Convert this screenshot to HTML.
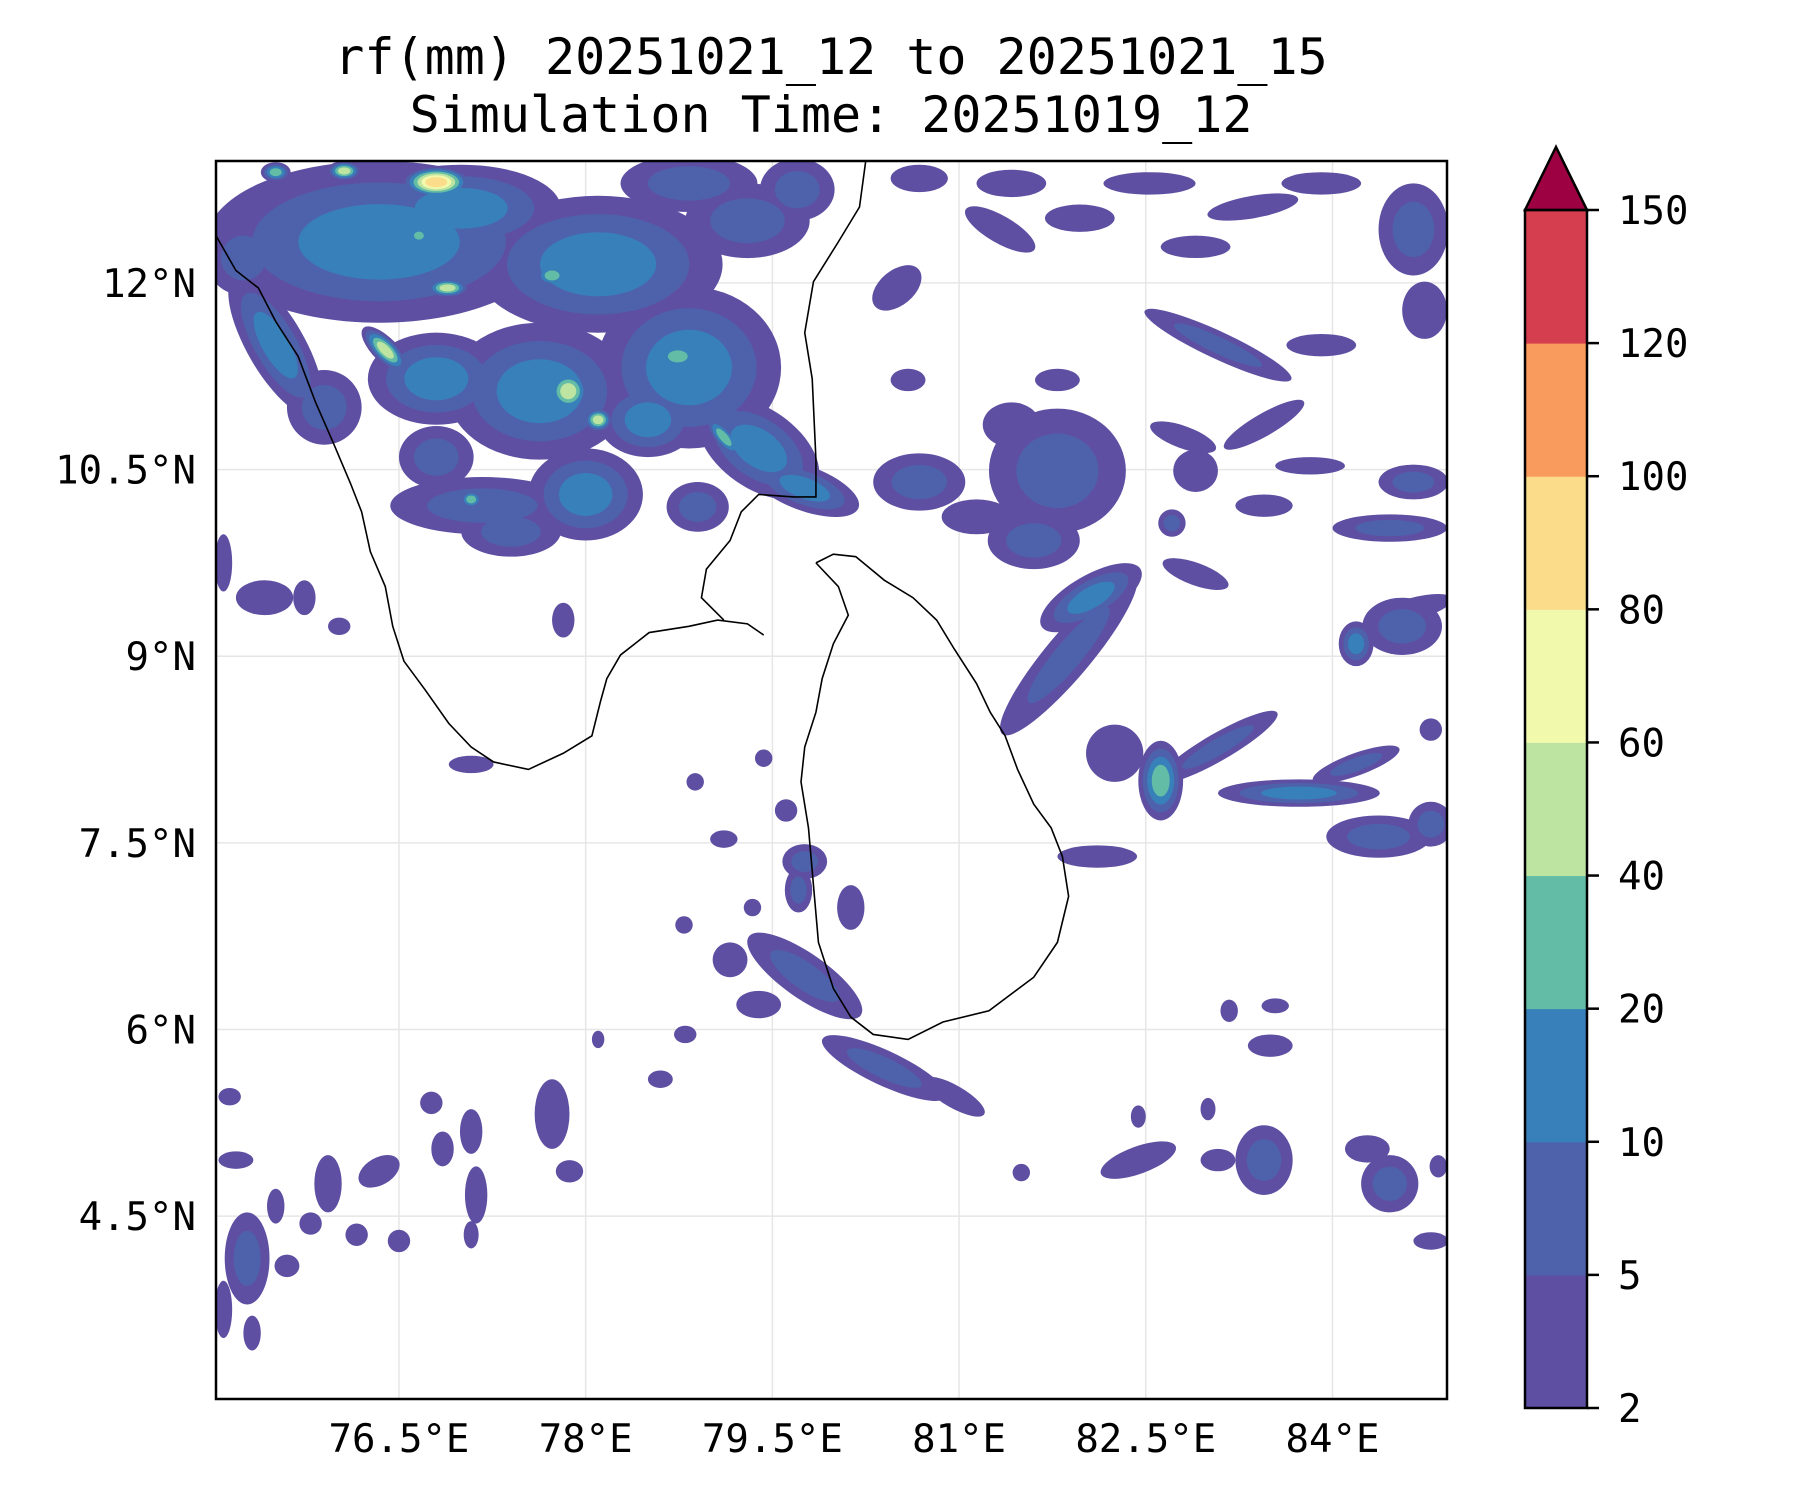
<!DOCTYPE html>
<html><head><meta charset="utf-8"><style>
html,body{margin:0;padding:0;background:#fff;}
svg{display:block;font-family:"DejaVu Sans Mono","Liberation Mono",monospace;}
</style></head><body>
<svg id="chart" width="1800" height="1500" viewBox="0 0 1800 1500">
<text x="831" y="74" font-size="50" text-anchor="middle">rf(mm) 20251021_12 to 20251021_15</text>
<text x="831" y="132" font-size="50" text-anchor="middle">Simulation Time: 20251019_12</text>
<defs><clipPath id="plotclip"><rect x="216" y="161" width="1231" height="1238"/></clipPath></defs>
<g id="grid"></g>
<g id="blobs" clip-path="url(#plotclip)"></g>
<g id="coast" clip-path="url(#plotclip)"></g>
<rect x="216" y="161" width="1231" height="1238" fill="none" stroke="#000" stroke-width="2.5"/>
<g id="xticks"></g>
<g id="yticks"></g>
<g id="cbar"></g>
</svg>
<script>
const lonTicks=[76.5,78,79.5,81,82.5,84];
const lonLabels=["76.5°E","78°E","79.5°E","81°E","82.5°E","84°E"];
const latTicks=[12,10.5,9,7.5,6,4.5];
const latLabels=["12°N","10.5°N","9°N","7.5°N","6°N","4.5°N"];
const levels=[2,5,10,20,40,60,80,100,120,150];
const levelColors=["#5e4fa2","#4e62ab","#3880b9","#62bca6","#bde4a0","#f1f9ad","#fbdc8a","#f89b5c","#d53e4f"];
const extendColor="#9e0142";
// blobs: [lon, lat, rx(deg), ry(deg), rotation(deg), maxLevelIndex]
const blobs=[
[76.34,12.33,1.39,0.65,0,3],[78.10,12.15,1.0,0.55,0,3],[78.83,11.32,0.74,0.65,0,3],
[77.63,11.13,0.74,0.55,0,3],[76.80,11.23,0.55,0.37,0,3],[75.51,11.50,0.65,0.23,60,3],
[75.25,12.2,0.3,0.3,0,2],[79.39,10.67,0.55,0.32,35,3],[79.76,10.35,0.46,0.18,20,3],
[77.17,10.21,0.74,0.23,0,2],[78.0,10.30,0.46,0.37,0,3],[78.83,12.80,0.55,0.23,0,2],
[76.8,10.6,0.3,0.25,0,2],[78.9,10.2,0.25,0.2,0,2],[79.7,12.75,0.3,0.25,0,2],
[77.0,12.6,0.8,0.35,0,3],[79.3,12.5,0.5,0.3,0,2],[75.9,11.0,0.3,0.3,0,2],
[77.4,10.0,0.4,0.2,0,2],[78.5,10.9,0.4,0.3,0,3],
[76.80,12.81,0.28,0.13,0,7],[76.06,12.90,0.14,0.08,0,5],[75.51,12.89,0.12,0.08,0,4],
[76.89,11.96,0.18,0.08,0,5],[76.39,11.46,0.25,0.1,45,5],[77.86,11.13,0.18,0.18,0,5],
[78.10,10.90,0.12,0.1,0,5],[78.74,11.41,0.2,0.12,0,4],[77.73,12.06,0.15,0.1,0,4],
[79.11,10.76,0.22,0.08,50,4],[77.08,10.26,0.1,0.08,0,4],[76.66,12.38,0.1,0.08,0,4],
[80.68,12.84,0.23,0.11,0,1],[81.42,12.80,0.28,0.11,0,1],[81.33,12.43,0.32,0.11,30,1],
[80.50,11.96,0.23,0.14,-40,1],[81.97,12.52,0.28,0.11,0,1],[82.53,12.80,0.37,0.09,0,1],
[83.36,12.61,0.37,0.09,-10,1],[83.91,12.80,0.32,0.09,0,1],[84.65,12.43,0.28,0.37,0,2],
[82.90,12.29,0.28,0.09,0,1],[83.08,11.50,0.65,0.11,25,2],[83.91,11.50,0.28,0.09,0,1],
[84.74,11.78,0.18,0.23,0,1],[81.79,11.22,0.18,0.09,0,1],[80.59,11.22,0.14,0.09,0,1],
[81.79,10.49,0.55,0.5,0,2],[81.6,9.93,0.37,0.23,0,2],[81.42,10.86,0.23,0.18,0,1],
[80.68,10.40,0.37,0.23,0,2],[81.14,10.12,0.28,0.14,0,1],[82.80,10.76,0.28,0.09,20,1],
[83.45,10.86,0.37,0.09,-30,1],[82.90,10.49,0.18,0.17,0,1],[83.82,10.53,0.28,0.07,0,1],
[84.65,10.40,0.28,0.14,0,2],[84.46,10.03,0.46,0.11,0,2],[83.45,10.21,0.23,0.09,0,1],
[82.71,10.07,0.11,0.11,0,2],[82.90,9.66,0.28,0.09,20,1],[82.06,9.47,0.46,0.18,-30,3],
[81.88,9.01,0.83,0.18,-50,2],[84.56,9.24,0.32,0.23,0,2],[84.65,9.38,0.32,0.09,-15,1],
[84.19,9.10,0.14,0.18,0,3],[84.79,8.41,0.09,0.09,0,1],[83.08,8.27,0.55,0.11,-30,2],
[83.73,7.90,0.65,0.11,0,3],[84.19,8.13,0.37,0.09,-20,2],[82.62,8.00,0.18,0.32,0,4],
[82.25,8.22,0.23,0.23,0,1],[84.37,7.55,0.42,0.17,0,2],[84.79,7.65,0.18,0.18,0,2],
[82.11,7.39,0.32,0.09,0,1],
[75.09,9.75,0.07,0.23,0,1],[75.42,9.47,0.23,0.14,0,1],[75.74,9.47,0.09,0.14,0,1],
[76.02,9.24,0.09,0.07,0,1],[77.82,9.29,0.09,0.14,0,1],[77.08,8.13,0.18,0.07,0,1],
[79.76,7.35,0.18,0.14,0,2],[79.76,6.43,0.55,0.18,35,2],[80.40,5.69,0.55,0.14,25,2],
[80.96,5.46,0.28,0.09,30,1],[79.39,6.20,0.18,0.11,0,1],[79.16,6.56,0.14,0.14,0,1],
[79.71,7.12,0.11,0.18,0,2],[78.88,7.99,0.07,0.07,0,1],[79.11,7.53,0.11,0.07,0,1],
[78.79,6.84,0.07,0.07,0,1],[79.34,6.98,0.07,0.07,0,1],[80.13,6.98,0.11,0.18,0,1],
[79.43,8.18,0.07,0.07,0,1],[79.61,7.76,0.09,0.09,0,1],
[77.73,5.32,0.14,0.28,0,1],[77.87,4.86,0.11,0.09,0,1],[78.6,5.6,0.1,0.07,0,1],
[78.1,5.92,0.05,0.07,0,1],[78.8,5.96,0.09,0.07,0,1],
[75.19,4.95,0.14,0.07,0,1],[75.14,5.46,0.09,0.07,0,1],[75.28,4.16,0.18,0.37,0,2],
[75.09,3.75,0.07,0.23,0,1],[75.93,4.76,0.11,0.23,0,1],[75.79,4.44,0.09,0.09,0,1],
[76.34,4.86,0.18,0.11,-30,1],[76.85,5.04,0.09,0.14,0,1],[77.08,5.18,0.09,0.18,0,1],
[77.12,4.67,0.09,0.23,0,1],[76.76,5.41,0.09,0.09,0,1],[76.5,4.3,0.09,0.09,0,1],
[75.51,4.58,0.07,0.14,0,1],[76.16,4.35,0.09,0.09,0,1],[77.08,4.35,0.06,0.11,0,1],
[75.32,3.56,0.07,0.14,0,1],[75.6,4.1,0.1,0.09,0,1],
[83.45,4.95,0.23,0.28,0,2],[84.46,4.76,0.23,0.23,0,2],[84.28,5.04,0.18,0.11,0,1],
[82.44,4.95,0.32,0.11,-20,1],[83.08,4.95,0.14,0.09,0,1],[83.50,5.87,0.18,0.09,0,1],
[83.54,6.19,0.11,0.06,0,1],[83.17,6.15,0.07,0.09,0,1],[84.79,4.3,0.14,0.07,0,1],
[84.85,4.9,0.07,0.09,0,1],[81.5,4.85,0.07,0.07,0,1],[82.44,5.3,0.06,0.09,0,1],[83.0,5.36,0.06,0.09,0,1]
];
const coastIndia=[[75.03,12.38],[75.19,12.10],[75.37,11.96],[75.51,11.69],[75.69,11.41],[75.83,11.04],[75.97,10.72],[76.11,10.39],[76.20,10.16],[76.27,9.84],[76.39,9.56],[76.45,9.24],[76.54,8.96],[76.71,8.73],[76.90,8.46],[77.08,8.27],[77.26,8.15],[77.54,8.09],[77.82,8.22],[78.05,8.36],[78.12,8.64],[78.17,8.82],[78.28,9.01],[78.51,9.19],[78.83,9.24],[79.06,9.29],[79.30,9.26],[79.43,9.17]];
const coastEast=[[79.11,9.29],[78.93,9.47],[78.97,9.70],[79.16,9.93],[79.25,10.16],[79.39,10.30],[79.67,10.28],[79.85,10.28],[79.85,10.58],[79.82,11.23],[79.76,11.60],[79.83,12.01],[80.03,12.33],[80.20,12.61],[80.25,12.98]];
const coastLanka=[[79.85,9.75],[79.99,9.82],[80.17,9.80],[80.40,9.61],[80.63,9.47],[80.82,9.29],[80.96,9.06],[81.14,8.78],[81.25,8.55],[81.37,8.36],[81.47,8.09],[81.60,7.81],[81.74,7.62],[81.83,7.39],[81.88,7.07],[81.79,6.70],[81.60,6.42],[81.24,6.15],[80.87,6.06],[80.59,5.92],[80.31,5.96],[80.13,6.10],[79.99,6.33],[79.87,6.70],[79.83,7.16],[79.79,7.62],[79.73,7.99],[79.76,8.27],[79.85,8.55],[79.90,8.82],[79.99,9.10],[80.11,9.33],[80.03,9.56],[79.85,9.75]];

const NS="http://www.w3.org/2000/svg";
const X0=216,X1=1447,Y0=161,Y1=1399,LON0=75.03,LON1=84.92,LAT0=3.03,LAT1=12.98;
function xs(lon){return X0+(lon-LON0)/(LON1-LON0)*(X1-X0);}
function ys(lat){return Y1-(lat-LAT0)/(LAT1-LAT0)*(Y1-Y0);}
const pxPerDeg=(X1-X0)/(LON1-LON0);
function mk(tag,attrs,parent){const e=document.createElementNS(NS,tag);for(const k in attrs)e.setAttribute(k,attrs[k]);parent.appendChild(e);return e;}

const grid=document.getElementById('grid');
lonTicks.forEach(v=>{const l=mk('line',{x1:xs(v),x2:xs(v),y1:Y0,y2:Y1,stroke:'#e6e6e6','stroke-width':1.5},grid);

});
latTicks.forEach(v=>{const l=mk('line',{x1:X0,x2:X1,y1:ys(v),y2:ys(v),stroke:'#e6e6e6','stroke-width':1.5},grid);

});

const bg=document.getElementById('blobs');
const maxL=Math.max(...blobs.map(b=>b[5]));
for(let k=1;k<=maxL;k++){
  blobs.forEach(b=>{
    const L=b[5]; if(L<k) return;
    const s=L===1?1:1-(k-1)/L*0.8;
    const e=mk('ellipse',{cx:xs(b[0]),cy:ys(b[1]),rx:b[2]*pxPerDeg*s,ry:b[3]*pxPerDeg*s,fill:levelColors[k-1],transform:`rotate(${b[4]} ${xs(b[0])} ${ys(b[1])})`},bg);
    
    
  });
}

const cg=document.getElementById('coast');
[coastIndia,coastEast,coastLanka].forEach((c,i)=>{
  const p=mk('polyline',{points:c.map(q=>xs(q[0])+','+ys(q[1])).join(' '),fill:'none',stroke:'#000','stroke-width':1.6},cg);
  
  
});

const xt=document.getElementById('xticks');
lonTicks.forEach((v,i)=>{const t=mk('text',{x:xs(v),y:1452,'font-size':39,'text-anchor':'middle'},xt);t.textContent=lonLabels[i];

});
const yt=document.getElementById('yticks');
latTicks.forEach((v,i)=>{const t=mk('text',{x:196,y:ys(v)+14,'font-size':39,'text-anchor':'end'},yt);t.textContent=latLabels[i];

});

const cb=document.getElementById('cbar');
const CX0=1525,CX1=1587,CY0=210,CY1=1408,n=levels.length-1,seg=(CY1-CY0)/n;
for(let i=0;i<n;i++){
  const r=mk('rect',{x:CX0,y:CY1-(i+1)*seg,width:CX1-CX0,height:seg+0.5,fill:levelColors[i]},cb);
  
  
}
const tri=mk('polygon',{points:`${CX0},${CY0} ${CX1},${CY0} ${(CX0+CX1)/2},147`,fill:extendColor,stroke:'#000','stroke-width':2.5},cb);


const fr=mk('rect',{x:CX0,y:CY0,width:CX1-CX0,height:CY1-CY0,fill:'none',stroke:'#000','stroke-width':2.5},cb);


levels.forEach((v,i)=>{const y=CY1-i*seg;
  const l=mk('line',{x1:CX1,x2:CX1+12,y1:y,y2:y,stroke:'#000','stroke-width':2.5},cb);
  
  
  const t=mk('text',{x:1618,y:y+14,'font-size':39},cb);t.textContent=v;
  
  
});
</script>
</body></html>
